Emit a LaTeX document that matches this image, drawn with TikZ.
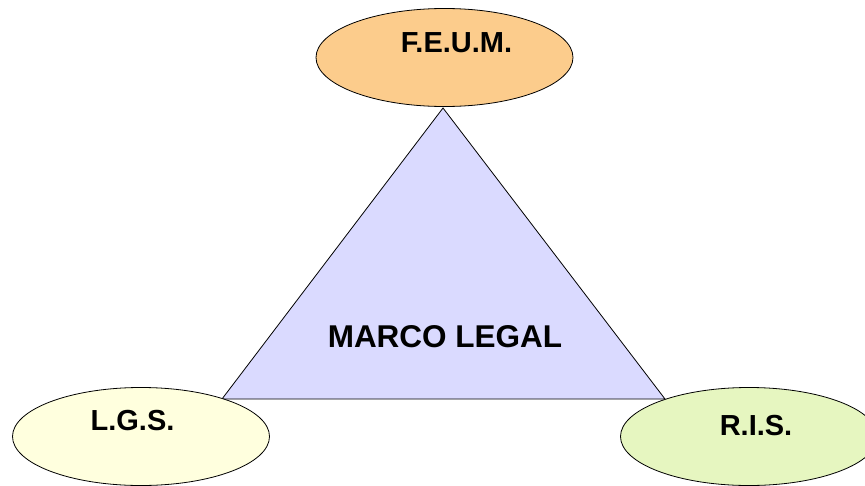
\documentclass[tikz,border=0pt]{standalone}
\usepackage{fontspec}
\setmainfont{Liberation Sans}
\usepackage{tikz}
\usetikzlibrary{shapes.geometric}

\definecolor{feumcol}{RGB}{252,204,140}
\definecolor{lgscol}{RGB}{255,255,222}
\definecolor{riscol}{RGB}{230,246,192}
\definecolor{marcocol}{RGB}{218,218,255}

\tikzset{
    bubble/.style={ellipse, draw, line width=0.8pt, minimum width=257pt, minimum height=98pt},
    tag/.style={font=\fontsize{29}{29}\selectfont\bfseries, inner sep=0pt}
}

\begin{document}
\begin{tikzpicture}[x=1pt,y=-1pt]
            \useasboundingbox (0,0) rectangle (865,485);
            \coordinate (A) at (443,108);
            \coordinate (B) at (222,399);
            \coordinate (C) at (665,399);
            \filldraw[fill=marcocol, line width=0.8pt] (A)--(B)--(C)--cycle;
            \node[tag, font=\fontsize{31.5}{31.5}\selectfont\bfseries] (marco) at (445,336.5) {MARCO LEGAL};
            \node[bubble, fill=feumcol] (feum) at (444.5,57.5) {};
            \node[bubble, fill=lgscol] (lgs) at (141,436.5) {};
            \node[bubble, fill=riscol] (ris) at (749,436.5) {};
            \node[tag] at (456.5,42.5) {F.E.U.M.};
            \node[tag] at (132.5,421) {L.G.S.};
            \node[tag] at (756,426) {R.I.S.};
        \end{tikzpicture}
\end{document}
